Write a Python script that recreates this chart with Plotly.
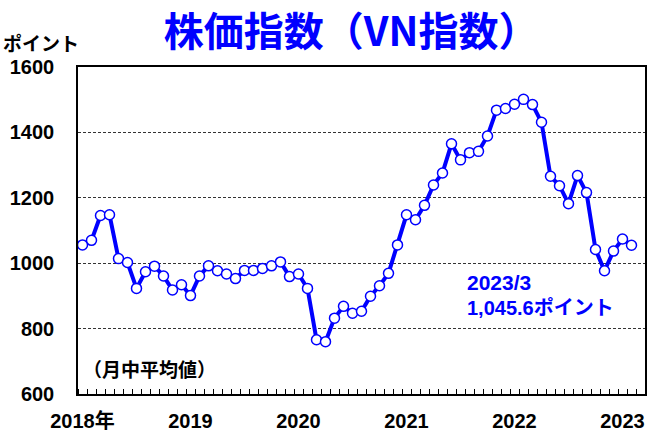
import plotly.graph_objects as go

# Monthly average VN index (points), Jan 2018 onward
months = list(range(62))
values = [1056, 1070, 1146, 1148, 1014, 1002, 923, 974, 991, 961, 918, 934,
          901, 961, 992, 977, 967, 953, 978, 978, 984, 992, 1004, 959,
          967, 923, 766, 760, 832, 868, 847, 853, 899, 931, 969, 1056,
          1148, 1133, 1177, 1239, 1276, 1365, 1316, 1338, 1342, 1389, 1468, 1473,
          1486, 1501, 1485, 1431, 1266, 1237, 1182, 1268, 1216, 1042, 977, 1037,
          1074, 1055]

year_tick_pos = [0, 12, 24, 36, 48, 60]
year_tick_text = ["2018年", "2019", "2020", "2021", "2022", "2023"]
y_ticks = [600, 800, 1000, 1200, 1400, 1600]

BLUE = "#0000FF"
FONT = "Liberation Sans, Arial, Noto Sans CJK JP"
JFONT = "Noto Sans CJK JP, Liberation Sans"

fig = go.Figure()
fig.add_trace(go.Scatter(
    x=months, y=values, mode="lines+markers",
    line=dict(color=BLUE, width=4),
    marker=dict(size=10, color="white", line=dict(color=BLUE, width=1.5)),
    showlegend=False, hoverinfo="skip",
))

fig.update_layout(
    width=649, height=434,
    margin=dict(l=78, r=4, t=67, b=40),
    paper_bgcolor="white", plot_bgcolor="white",
    title=dict(text="<b>株価指数（VN指数）</b>", x=0.541, y=0.926,
               xanchor="center", yanchor="middle",
               font=dict(family=JFONT, size=40, color=BLUE)),
    xaxis=dict(
        range=[-0.5, 62.5], showgrid=False, zeroline=False, automargin=False,
        showline=True, linecolor="black", linewidth=1.5, mirror=True,
        tickmode="array", tickvals=year_tick_pos, ticktext=year_tick_text,
        ticks="", ticklabelstandoff=8,
        tickfont=dict(family=FONT, size=20, color="black", weight="bold"),
        minor=dict(tick0=-0.5, dtick=1, ticks="inside", ticklen=5,
                   tickcolor="black", tickwidth=1, showgrid=False),
    ),
    yaxis=dict(
        range=[600, 1600], tickmode="array", tickvals=y_ticks, automargin=False,
        showgrid=True, gridcolor="#333333", griddash="3px,2px", gridwidth=1,
        zeroline=False, showline=True, linecolor="black", linewidth=1.5, mirror=True,
        ticks="", ticklabelstandoff=18,
        tickfont=dict(family=FONT, size=20, color="black", weight="bold"),
    ),
    annotations=[
        dict(text="<b>ポイント</b>", xref="paper", yref="paper", x=-0.066, y=1.076,
             xanchor="center", yanchor="middle", showarrow=False,
             font=dict(family=JFONT, size=19, color="black")),
        dict(text="<b>（月中平均値）</b>", xref="paper", yref="paper", x=0.005, y=0.0795,
             xanchor="left", yanchor="middle", showarrow=False,
             font=dict(family=JFONT, size=19, color="black")),
        dict(text="<b>2023/3</b>", xref="paper", yref="paper", x=0.6825, y=0.3425,
             xanchor="left", yanchor="middle", showarrow=False,
             font=dict(family=FONT, size=21, color=BLUE)),
        dict(text="<b>1,045.6ポイント</b>", xref="paper", yref="paper", x=0.6825, y=0.263,
             xanchor="left", yanchor="middle", showarrow=False,
             font=dict(family=FONT, size=20, color=BLUE)),
    ],
)

fig.write_html("out.html", config={"displayModeBar": False},
               post_script="document.body.style.margin='0';document.body.style.padding='0';")
